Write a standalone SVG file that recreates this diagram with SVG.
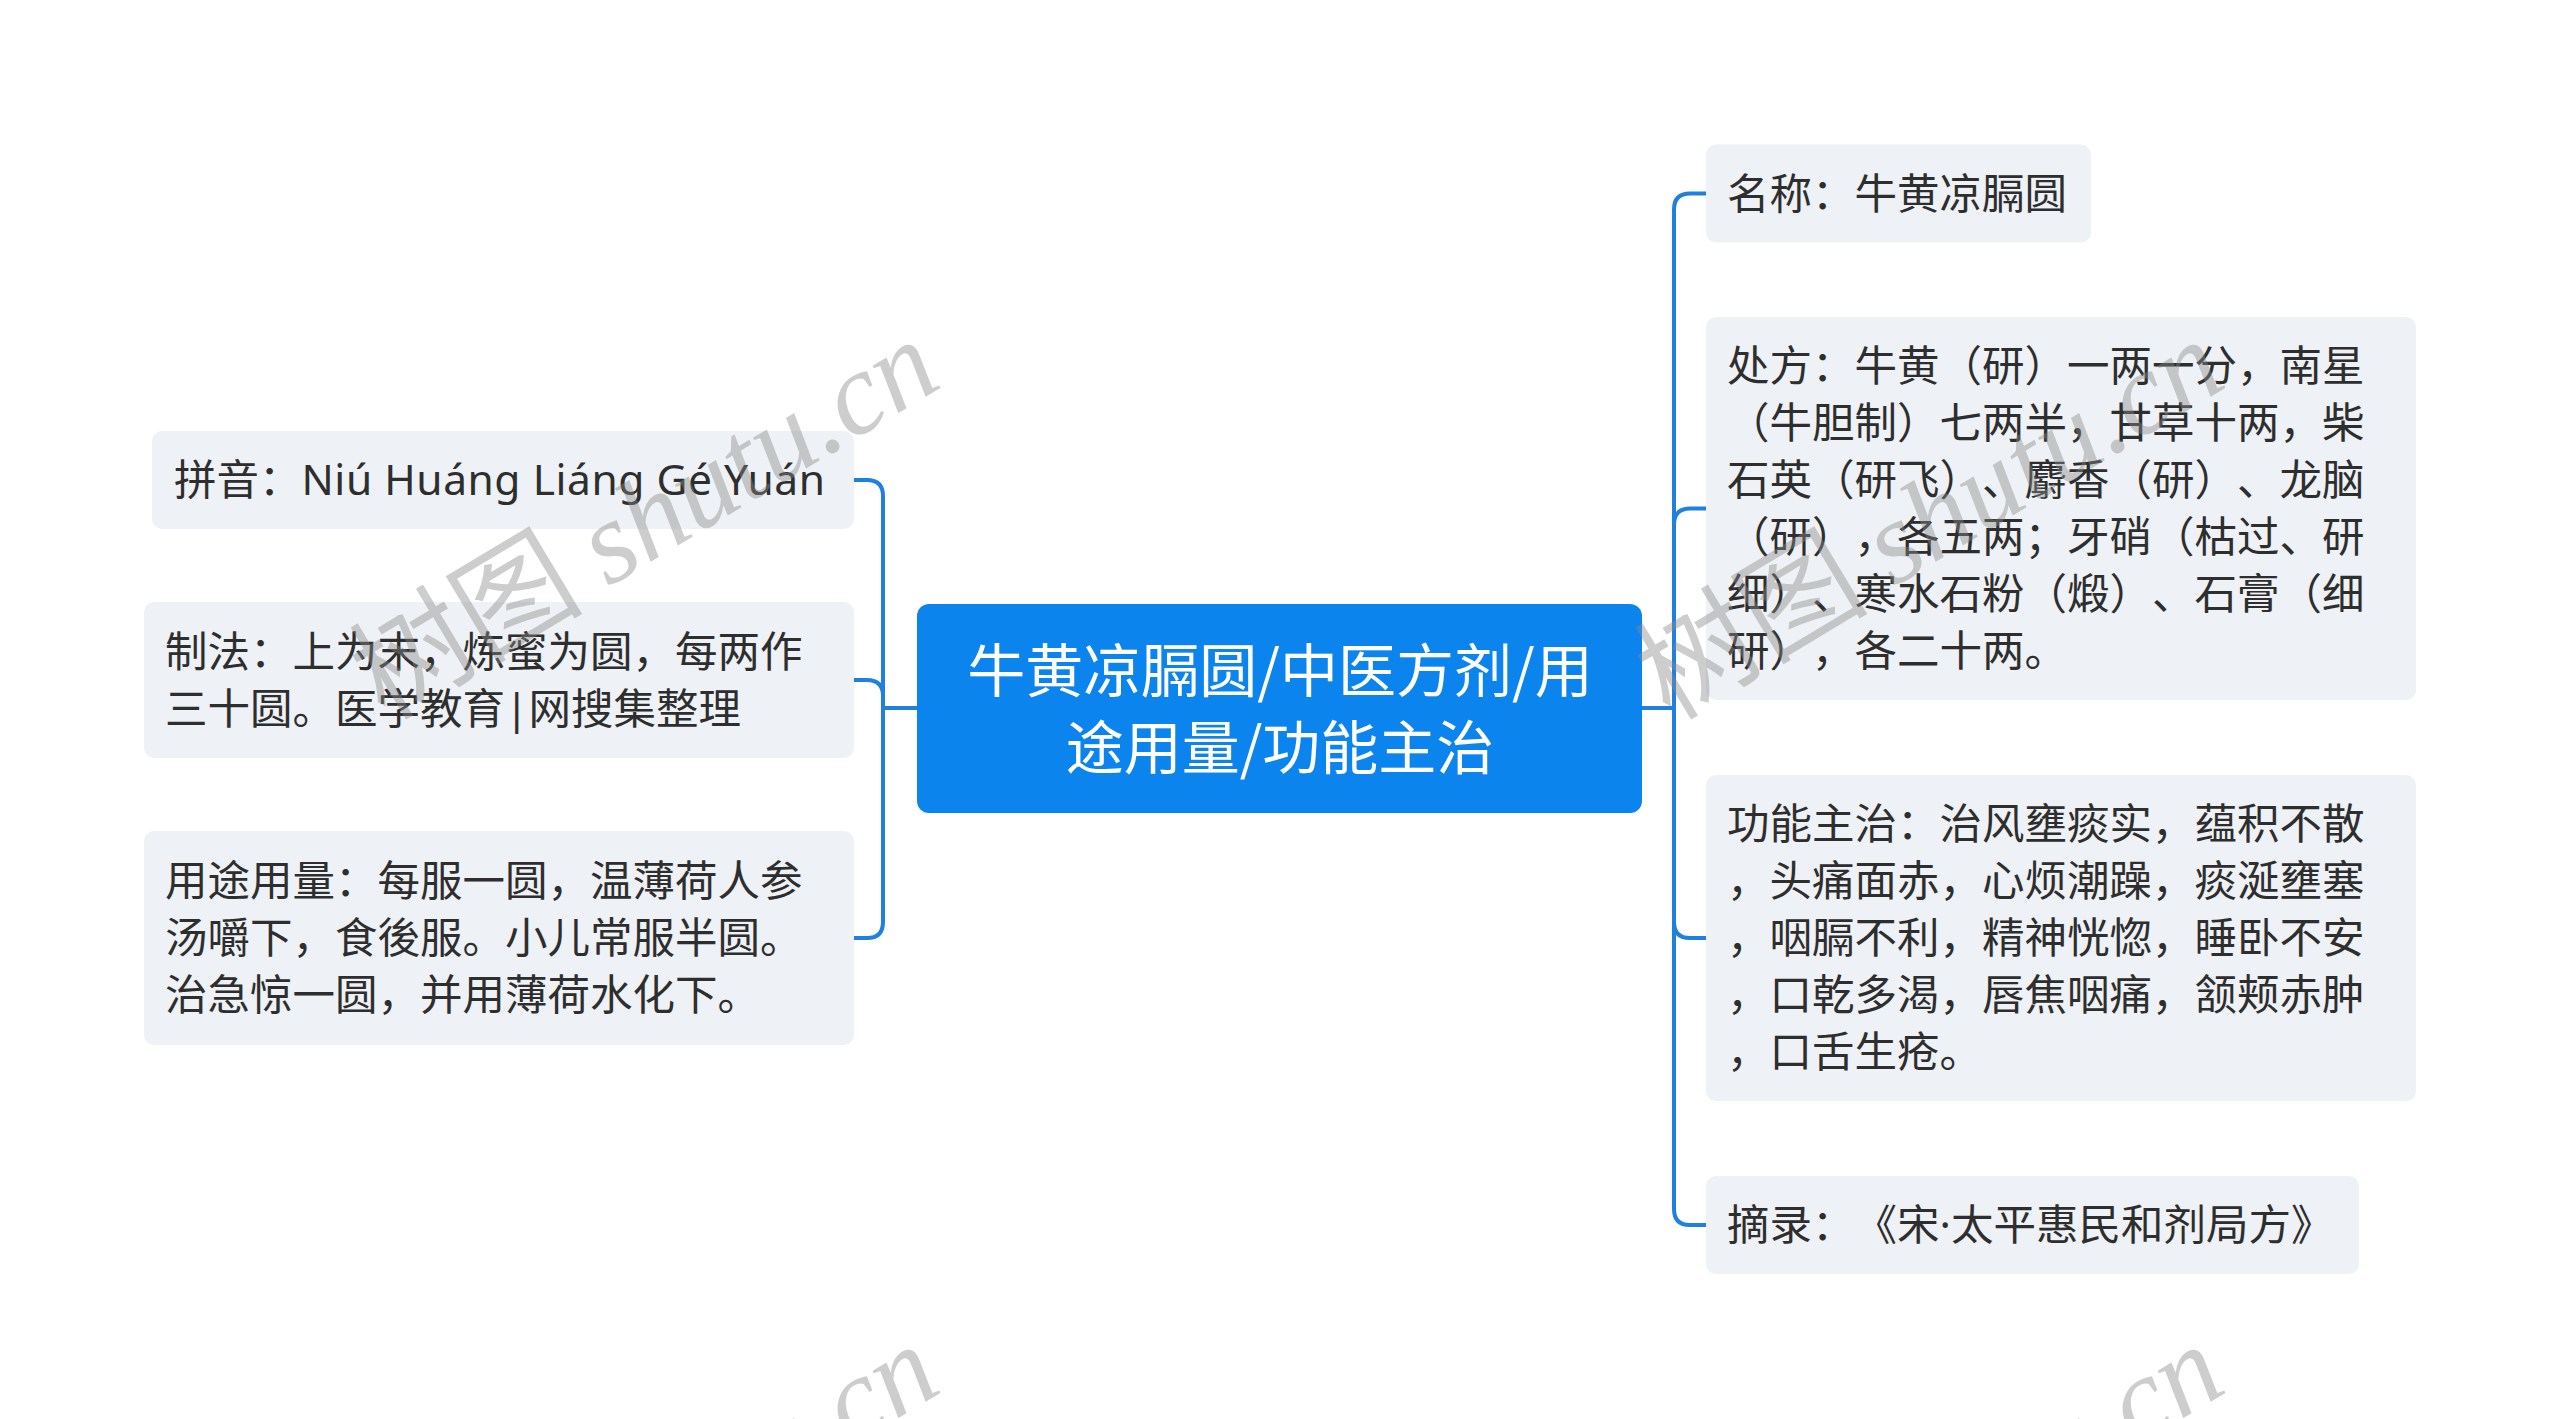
<svg xmlns="http://www.w3.org/2000/svg" width="2560" height="1419" viewBox="0 0 2560 1419">
<style>
text{text-spacing-trim:space-all}
.bg{fill:#ffffff}
.node{fill:#eef1f5}
.root{fill:#0b84ee}
.t{font-family:'Noto Sans','Noto Sans CJK SC',sans-serif;font-size:42.5px;fill:#2e2e2e}
.lat{letter-spacing:0.55px}
.rt{font-family:'Noto Sans CJK SC',sans-serif;font-size:58px;fill:#ffffff;text-anchor:middle}
.link{fill:none;stroke:#1f80e0;stroke-width:4;stroke-linejoin:round;stroke-linecap:butt}
.wm{font-size:117px;fill:#8a8a8a;opacity:0.42;text-anchor:end}
.wmc{font-family:'Noto Sans CJK SC',sans-serif}
.wms{font-family:'Liberation Serif',serif;font-style:italic}
</style>
<rect class="bg" x="0" y="0" width="2560" height="1419"/>
<g id="connectors">
<path class="link" d="M917,708 H883"/>
<path class="link" d="M883,708 V496 Q883,480 867,480 H854"/>
<path class="link" d="M883,708 V696 Q883,680 867,680 H854"/>
<path class="link" d="M883,708 V922 Q883,938 867,938 H854"/>
<path class="link" d="M1642,708 H1674"/>
<path class="link" d="M1674,708 V209.5 Q1674,193.5 1690,193.5 H1706"/>
<path class="link" d="M1674,708 V524.5 Q1674,508.5 1690,508.5 H1706"/>
<path class="link" d="M1674,708 V922 Q1674,938 1690,938 H1706"/>
<path class="link" d="M1674,708 V1209 Q1674,1225 1690,1225 H1706"/>
</g>
<g id="root">
<rect class="root" x="917" y="604" width="725" height="209" rx="12"/>
<text class="rt" x="1280" y="692">牛黄凉膈圆/中医方剂/用</text>
<text class="rt" x="1280" y="769">途用量/功能主治</text>
</g>
<g id="pinyin">
<rect class="node" x="152" y="431" width="702" height="98" rx="10"/>
<text class="t" x="174" y="495">拼音：<tspan class="lat">Niú Huáng Liáng Gé Yuán</tspan></text>
</g>
<g id="zhifa">
<rect class="node" x="144" y="602" width="710" height="156" rx="10"/>
<text class="t" x="165" y="667">制法：上为末，炼蜜为圆，每两作</text>
<text class="t" x="165" y="724">三十圆。医学教育|网搜集整理</text>
</g>
<g id="yongtu">
<rect class="node" x="144" y="831" width="710" height="214" rx="10"/>
<text class="t" x="165" y="896">用途用量：每服一圆，温薄荷人参</text>
<text class="t" x="165" y="953">汤嚼下，食後服。小儿常服半圆。</text>
<text class="t" x="165" y="1010">治急惊一圆，并用薄荷水化下。</text>
</g>
<g id="mingcheng">
<rect class="node" x="1706" y="144.5" width="385" height="98" rx="10"/>
<text class="t" x="1727" y="209">名称：牛黄凉膈圆</text>
</g>
<g id="chufang">
<rect class="node" x="1706" y="317" width="710" height="383" rx="10"/>
<text class="t" x="1727" y="381">处方：牛黄（研）一两一分，南星</text>
<text class="t" x="1727" y="438">（牛胆制）七两半，甘草十两，柴</text>
<text class="t" x="1727" y="495">石英（研飞）、麝香（研）、龙脑</text>
<text class="t" x="1727" y="552">（研），各五两；牙硝（枯过、研</text>
<text class="t" x="1727" y="609">细）、寒水石粉（煅）、石膏（细</text>
<text class="t" x="1727" y="666">研），各二十两。</text>
</g>
<g id="gongneng">
<rect class="node" x="1706" y="775" width="710" height="326" rx="10"/>
<text class="t" x="1727" y="839">功能主治：治风壅痰实，蕴积不散</text>
<text class="t" x="1727" y="896">，头痛面赤，心烦潮躁，痰涎壅塞</text>
<text class="t" x="1727" y="953">，咽膈不利，精神恍惚，睡卧不安</text>
<text class="t" x="1727" y="1010">，口乾多渴，唇焦咽痛，颔颊赤肿</text>
<text class="t" x="1727" y="1067">，口舌生疮。</text>
</g>
<g id="zhailu">
<rect class="node" x="1706" y="1176" width="653" height="98" rx="10"/>
<text class="t" x="1727" y="1240">摘录：《宋·太平惠民和剂局方》</text>
</g>
<g id="watermark">
<text class="wm" transform="translate(945,385) rotate(-31)"><tspan class="wmc">树图 </tspan><tspan class="wms">shutu.cn</tspan></text>
<text class="wm" transform="translate(2230,385) rotate(-31)"><tspan class="wmc">树图 </tspan><tspan class="wms">shutu.cn</tspan></text>
<text class="wm" transform="translate(945,1390) rotate(-31)"><tspan class="wmc">树图 </tspan><tspan class="wms">shutu.cn</tspan></text>
<text class="wm" transform="translate(2230,1390) rotate(-31)"><tspan class="wmc">树图 </tspan><tspan class="wms">shutu.cn</tspan></text>
</g>
</svg>
